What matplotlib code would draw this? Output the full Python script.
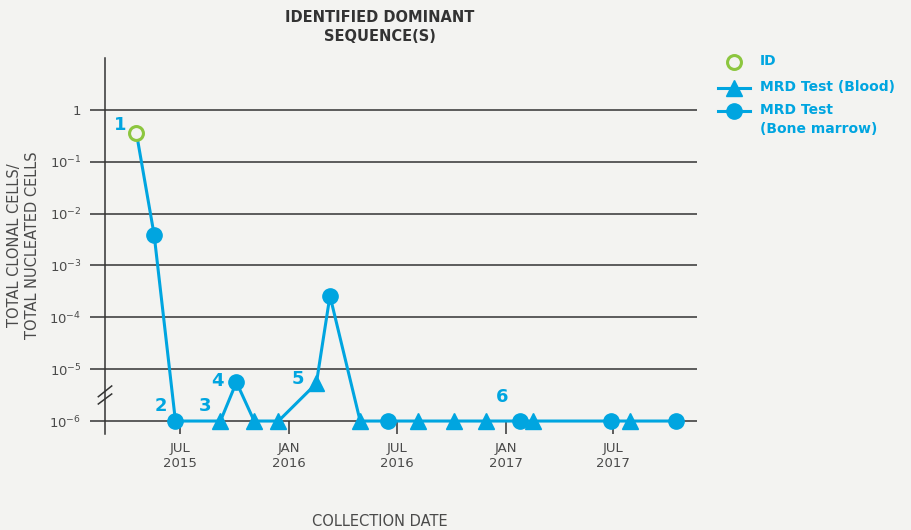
import matplotlib.pyplot as plt
from matplotlib.lines import Line2D
import datetime

plt.rcParams['font.family'] = ['DejaVu Sans']
plt.rcParams['mathtext.default'] = 'regular'

# data
dates = ['2015-04-18', '2015-05-18', '2015-06-23', '2015-09-07', '2015-10-04',
         '2015-11-03', '2015-12-14', '2016-02-16', '2016-03-10', '2016-04-30',
         '2016-06-16', '2016-08-06', '2016-10-06', '2016-11-29', '2017-01-25',
         '2017-02-16', '2017-06-28', '2017-07-30', '2017-10-16']
values = [0.36, 0.0039, 1e-6, 1e-6, 5.6e-6,
          1e-6, 1e-6, 5.3e-6, 2.6e-4, 1e-6,
          1e-6, 1e-6, 1e-6, 1e-6, 1e-6,
          1e-6, 1e-6, 1e-6, 1e-6]
kinds = ['ID', 'BM', 'BM', 'Blood', 'BM',
         'Blood', 'Blood', 'Blood', 'BM', 'Blood',
         'BM', 'Blood', 'Blood', 'Blood', 'BM',
         'Blood', 'BM', 'Blood', 'BM']
# sample numbers and the point each one belongs to
sample_labels = ['1', '2', '3', '4', '5', '6']
sample_points = [0, 2, 3, 4, 7, 14]

yticks = [1, 1e-1, 1e-2, 1e-3, 1e-4, 1e-5, 1e-6]
ytick_labels = ['1', '10$^{-1}$', '10$^{-2}$', '10$^{-3}$', '10$^{-4}$', '10$^{-5}$', '10$^{-6}$']
xticks = ['2015-07-01', '2016-01-01', '2016-07-01', '2017-01-01', '2017-07-01']
xtick_labels = ['JUL\n2015', 'JAN\n2016', 'JUL\n2016', 'JAN\n2017', 'JUL\n2017']
legend_labels = ['ID', 'MRD Test (Blood)', 'MRD Test\n(Bone marrow)']

to_date = lambda s: datetime.datetime.strptime(s, '%Y-%m-%d')
x = [to_date(d) for d in dates]

BLUE = '#00a5e0'
GREEN = '#8cc63f'
BG = '#f3f3f1'
DARK = '#333333'
TEXT = '#4a4a4a'

fig = plt.figure(figsize=(9.11, 5.30), dpi=100, facecolor=BG)
ax = fig.add_axes([105 / 911, 96 / 530, 592 / 911, 376 / 530])
ax.set_facecolor(BG)

ax.plot(x, values, color=BLUE, lw=2.2, zorder=3)
for xi, v, k in zip(x, values, kinds):
    if k == 'ID':
        ax.plot(xi, v, 'o', ms=10, mfc=BG, mec=GREEN, mew=2.2, zorder=4)
    elif k == 'BM':
        ax.plot(xi, v, 'o', ms=11, color=BLUE, zorder=4)
    else:
        ax.plot(xi, v, '^', ms=12, color=BLUE, zorder=4)

offsets = [(-16, 8), (-15, 15), (-15, 15), (-19, 1), (-18, 4), (-18, 24)]
for lab, idx, off in zip(sample_labels, sample_points, offsets):
    ax.annotate(lab, (x[idx], values[idx]), xytext=off, textcoords='offset pixels',
                ha='center', va='center', color=BLUE, fontsize=13, fontweight='bold')

ax.set_yscale('log')
ax.set_ylim(10 ** -6.25, 10 ** 1.0)
ax.set_xlim(to_date('2015-02-24'), to_date('2017-11-20'))
ax.set_yticks(yticks)
ax.set_yticklabels(ytick_labels)
ax.minorticks_off()
ax.set_xticks([to_date(d) for d in xticks])
ax.set_xticklabels(xtick_labels)

ax.grid(axis='y', color=DARK, lw=1.1)
ax.tick_params(axis='y', direction='out', length=11, width=1.1, color=DARK,
               pad=6, labelsize=9.5, labelcolor=TEXT)
ax.tick_params(axis='x', direction='in', length=9.5, width=1.1, color=DARK,
               pad=6, labelsize=9.5, labelcolor=TEXT)
for s in ['top', 'right', 'bottom']:
    ax.spines[s].set_visible(False)
ax.spines['left'].set_color(DARK)
ax.spines['left'].set_linewidth(1.1)

# axis break marks
for y0, y1 in [(0.0992, 0.1277), (0.0798, 0.1064)]:
    ax.plot([-0.0113, 0.0113], [y0, y1], transform=ax.transAxes,
            color=DARK, lw=1.1, clip_on=False, zorder=5)

fig.text(380 / 911, 1 - 27 / 530, 'IDENTIFIED DOMINANT\nSEQUENCE(S)', ha='center', va='center',
         fontsize=10.5, fontweight='bold', color=DARK, linespacing=1.35)
fig.text(380 / 911, 1 - 522 / 530, 'COLLECTION DATE', ha='center', va='center',
         fontsize=10.5, color=TEXT)
fig.text(24 / 911, 1 - 245 / 530, 'TOTAL CLONAL CELLS/\nTOTAL NUCLEATED CELLS', ha='center',
         va='center', rotation=90, fontsize=10.5, color=TEXT, linespacing=1.25)

# legend drawn by hand so the marker sits on the first text line
tr = fig.transFigure
legend_y = [62, 88, 111]
styles = [dict(ls='none', marker='o', ms=10, mfc=BG, mec=GREEN, mew=2.2),
          dict(color=BLUE, lw=2.2, marker='^', ms=12),
          dict(color=BLUE, lw=2.2, marker='o', ms=11)]
hx = [718 / 911, 734 / 911, 750 / 911]
for lab, yy, st in zip(legend_labels, legend_y, styles):
    fy = 1 - yy / 530
    fig.add_artist(Line2D(hx, [fy] * 3, transform=tr, markevery=[1], **st)
                   if st.get('ls') != 'none' else
                   Line2D([hx[1]], [fy], transform=tr, **st))
    fig.text(760 / 911, 1 - (yy - 8) / 530, lab, transform=tr, ha='left', va='top', color=BLUE,
             fontsize=10, fontweight='bold', linespacing=1.45)

fig.savefig('out.png', dpi=100, facecolor=BG)
